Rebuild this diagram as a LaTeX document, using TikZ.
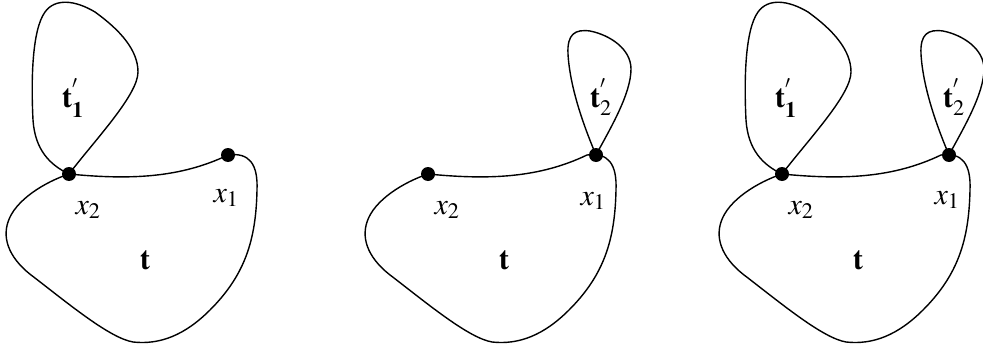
\documentclass[tikz,border=0pt]{standalone}
\usepackage{amsmath}
\usepackage{mathptmx}
\usepackage{fontspec}
\setmainfont{Liberation Serif}
\usetikzlibrary{positioning, calc}
\tikzset{
  outline/.style={line width=1.4pt, line join=round},
  vertex/.style={circle, fill=black, inner sep=0pt, minimum size=14pt},
  tlabel/.style={font=\fontsize{30}{34}\selectfont, inner sep=0pt}
}

% lower region t, x1 sits at #1 on its top edge
\newcommand{\baseblob}[1]{
    \coordinate (X2) at (69,174);
    \coordinate (X1) at (#1,155);
    \draw[outline] (X2) .. controls (130,180) and (180,178) .. (228,155)
        .. controls (250,152) and (258,165) .. (257,190)
        .. controls (256,240) and (245,275) .. (210,310)
        .. controls (185,335) and (160,345) .. (133,342)
        .. controls (110,338) and (70,305) .. (35,278)
        .. controls (10,260) and (2,240) .. (8,222)
        .. controls (15,200) and (45,182) .. (X2);
    \node[tlabel] (T) at (145,260) {$\mathbf{t}$};
    \node[tlabel] (LX2) at (88,210) {$x_2$};
}

% upper loop t'_1 hanging on x2
\newcommand{\loopone}{
    \draw[outline] (X2) .. controls (50,165) and (35,150) .. (33,120)
        .. controls (31,80) and (32,30) .. (45,12)
        .. controls (55,-2) and (75,0) .. (95,12)
        .. controls (120,30) and (138,50) .. (138,72)
        .. controls (138,95) and (95,140) .. (X2);
    \node[tlabel] (T1) at (73,98) {$\mathbf{t}^{'}_{\mathbf{1}}$};
}

% upper loop t'_2 hanging on x1
\newcommand{\looptwo}{
    \begin{scope}[shift={(X1)}]
        \draw[outline] (0,0) .. controls (-11,-26) and (-26,-66) .. (-28,-101)
            .. controls (-29,-121) and (-21,-126) .. (-6,-124)
            .. controls (14,-120) and (35,-106) .. (35,-86)
            .. controls (35,-61) and (14,-26) .. (0,0);
        \node[tlabel] (T2) at (5,-58) {$\mathbf{t}^{'}_{2}$};
    \end{scope}
}

\begin{document}
\begin{tikzpicture}[x=1pt, y=-1pt]
    \useasboundingbox (0,0) rectangle (983,348);

    % --- left: t with t'_1 on x2 ---
    \begin{scope}
        \baseblob{228}
        \loopone
        \node[vertex] (A2) at (X2) {};
        \node[vertex] (A1) at (X1) {};
        \node[tlabel] at (226,198) {$x_1$};
    \end{scope}

    % --- middle: t with t'_2 on x1 ---
    \begin{scope}[shift={(359,0)}]
        \baseblob{237}
        \looptwo
        \node[vertex] (B2) at (X2) {};
        \node[vertex] (B1) at (X1) {};
        \node[tlabel] at (234,201) {$x_1$};
    \end{scope}

    % --- right: both loops ---
    \begin{scope}[shift={(713,0)}]
        \baseblob{236}
        \loopone
        \looptwo
        \node[vertex] (C2) at (X2) {};
        \node[vertex] (C1) at (X1) {};
        \node[tlabel] at (234,200) {$x_1$};
    \end{scope}
\end{tikzpicture}
\end{document}
